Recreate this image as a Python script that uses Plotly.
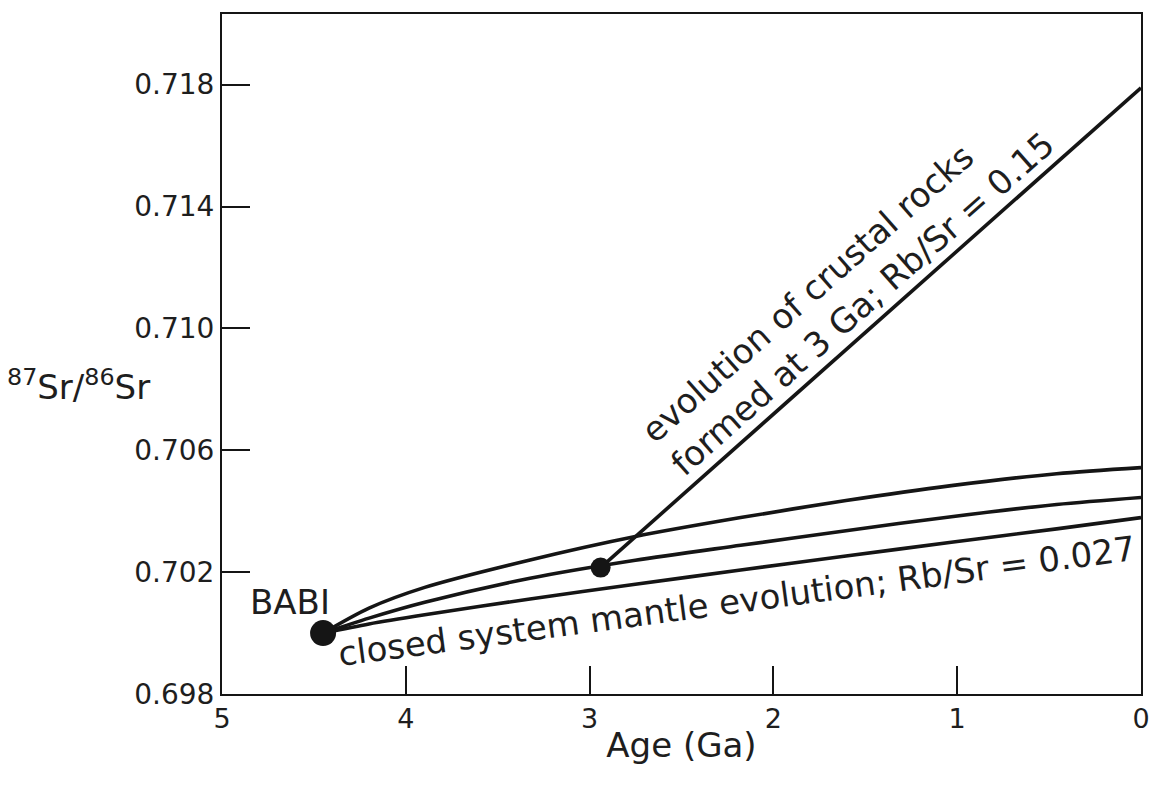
import plotly.graph_objects as go

# Sr isotope evolution curves (age in Ga, 87Sr/86Sr)
ages = [4.45, 4.20, 3.897, 3.324, 2.751, 2.178, 1.605, 1.032, 0.459, 0.0]
upper_curve = [0.70000, 0.70082, 0.70150, 0.70240, 0.70317, 0.70379, 0.70435,
               0.70484, 0.70523, 0.70543]
middle_curve = [0.70000, 0.70049, 0.70101, 0.70180, 0.70239, 0.70288, 0.70336,
                0.70382, 0.70422, 0.70445]
mantle_curve = [0.70000, 0.70030, 0.70060, 0.70112, 0.70160, 0.70207, 0.70253,
                0.70298, 0.70342, 0.70379]

# Crust formed at ~3 Ga, Rb/Sr = 0.15
crust_ages = [2.94, 0.0]
crust_ratio = [0.70215, 0.71790]

# BABI starting point
babi_age = [4.45]
babi_ratio = [0.70000]

x_ticks = [5, 4, 3, 2, 1, 0]
y_ticks = [0.698, 0.702, 0.706, 0.710, 0.714, 0.718]

FONT = "DejaVu Sans"
INK = "#1e1e1e"
LINE = "#151515"

fig = go.Figure()

for ys in (upper_curve, middle_curve, mantle_curve):
    fig.add_trace(go.Scatter(
        x=ages, y=ys, mode="lines",
        line=dict(color=LINE, width=3.6, shape="spline", smoothing=0.8),
        hoverinfo="skip", showlegend=False))

fig.add_trace(go.Scatter(
    x=crust_ages, y=crust_ratio, mode="lines",
    line=dict(color=LINE, width=3.6), showlegend=False))

fig.add_trace(go.Scatter(
    x=crust_ages[:1], y=crust_ratio[:1], mode="markers",
    marker=dict(color=LINE, size=20), showlegend=False))

fig.add_trace(go.Scatter(
    x=babi_age, y=babi_ratio, mode="markers",
    marker=dict(color=LINE, size=26), showlegend=False))

fig.add_annotation(x=4.63, y=0.70101, text="BABI", showarrow=False,
                   font=dict(family=FONT, size=34, color=INK))

fig.add_annotation(x=2.20, y=0.70104, text="closed system mantle evolution; Rb/Sr = 0.027",
                   showarrow=False, textangle=-7.6,
                   font=dict(family=FONT, size=34, color=INK))

fig.add_annotation(x=1.595, y=0.71136,
                   text="evolution of crustal rocks<br>formed at 3 Ga; Rb/Sr = 0.15",
                   showarrow=False, textangle=-41.5, align="left",
                   font=dict(family=FONT, size=34, color=INK))

# y-axis label with superscript mass numbers
fig.add_annotation(xref="paper", yref="paper", x=-0.1557, y=0.455,
                   text="<sup>87</sup>Sr/<sup>86</sup>Sr", showarrow=False,
                   xanchor="center", yanchor="middle",
                   font=dict(family=FONT, size=34, color=INK))

fig.update_xaxes(
    range=[5, 0], tickvals=x_ticks, ticktext=[str(v) for v in x_ticks],
    ticks="inside", ticklen=28, tickwidth=2, tickcolor=LINE,
    showline=True, linecolor=LINE, linewidth=2, mirror=True,
    showgrid=False, zeroline=False,
    tickfont=dict(family=FONT, size=27, color=INK),
    title=dict(text="Age (Ga)", font=dict(family=FONT, size=34, color=INK), standoff=0),
)
fig.update_yaxes(
    range=[0.698, 0.72032], tickvals=y_ticks, ticktext=[f"{v:.3f}" for v in y_ticks],
    ticks="inside", ticklen=28, tickwidth=2, tickcolor=LINE,
    showline=True, linecolor=LINE, linewidth=2, mirror=True,
    showgrid=False, zeroline=False,
    tickfont=dict(family=FONT, size=28, color=INK),
)

fig.update_layout(
    width=1162, height=789,
    margin=dict(l=222, r=15, t=12, b=95),
    paper_bgcolor="white", plot_bgcolor="white",
    showlegend=False,
)

fig.write_html("out.html")
